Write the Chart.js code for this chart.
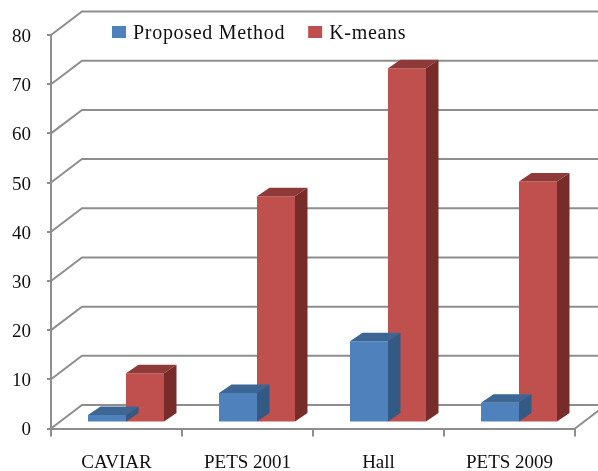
<!DOCTYPE html>
<html>
<head>
<meta charset="utf-8">
<title>Proposed Method vs K-means</title>
<script src="https://cdn.jsdelivr.net/npm/chart.js@4.4.1/dist/chart.umd.min.js"></script>
<style>
  html, body { margin: 0; padding: 0; background: #ffffff; }
  #wrap { width: 598px; height: 471px; }
</style>
</head>
<body>
<div id="wrap"><canvas id="chart" width="598" height="471"></canvas></div>
<script>
/* ---------------- Data ---------------- */
const categories     = ["CAVIAR", "PETS 2001", "Hall", "PETS 2009"];
const seriesNames    = ["Proposed Method", "K-means"];
const proposedValues = [1.5, 6, 16.5, 4];
const kmeansValues   = [10, 46, 72, 49];
const yTickValues    = [0, 10, 20, 30, 40, 50, 60, 70, 80];

/* ---------------- Look of the fake 3D (Excel-style) ---------------- */
const FONT       = "'Liberation Serif', 'Times New Roman', serif";
const TEXT_COLOR = "#111111";
const GRID_COLOR = "#8e8e8e";
const WALL_DEPTH = { dx: 31, dy: -23.5 };   // front plane -> back wall
const BAR_SHIFT  = { dx: 9.5, dy: -6 };     // where the bars stand in depth
const BAR_DEPTH  = { dx: 12.5, dy: -8.5 };  // thickness of each bar
const faces = [
  { front: "#4f81bd", top: "#3c6794", side: "#335a85" },
  { front: "#c0504d", top: "#8e3a38", side: "#772c2a" }
];

/* ---------------- Plugin: walls, bar tops/sides, legend ---------------- */
const depthPlugin = {
  id: "depth3d",
  beforeDatasetsDraw(chart) {
    const { ctx, chartArea: a, scales: { y } } = chart;
    ctx.save();
    ctx.strokeStyle = GRID_COLOR;
    ctx.lineWidth = 2;
    ctx.beginPath();
    yTickValues.forEach((v) => {
      const py = y.getPixelForValue(v);
      // left side wall slant, then the back wall line
      ctx.moveTo(a.left, py);
      ctx.lineTo(a.left + WALL_DEPTH.dx, py + WALL_DEPTH.dy);
      ctx.lineTo(a.right + WALL_DEPTH.dx + 40, py + WALL_DEPTH.dy);
    });
    // right edge of the floor
    ctx.moveTo(a.right, a.bottom);
    ctx.lineTo(a.right + WALL_DEPTH.dx, a.bottom + WALL_DEPTH.dy);
    ctx.stroke();
    ctx.restore();

    ctx.save();
    ctx.translate(BAR_SHIFT.dx, BAR_SHIFT.dy);
  },
  afterDatasetDraw(chart, args) {
    const { ctx } = chart;
    const f = faces[args.index];
    args.meta.data.forEach((bar) => {
      const { x, y, base, width } = bar.getProps(["x", "y", "base", "width"], true);
      const x0 = x - width / 2, x1 = x + width / 2;
      const { dx, dy } = BAR_DEPTH;
      ctx.fillStyle = f.top;
      ctx.beginPath();
      ctx.moveTo(x0, y);
      ctx.lineTo(x1, y);
      ctx.lineTo(x1 + dx, y + dy);
      ctx.lineTo(x0 + dx, y + dy);
      ctx.closePath();
      ctx.fill();
      ctx.fillStyle = f.side;
      ctx.beginPath();
      ctx.moveTo(x1, y);
      ctx.lineTo(x1 + dx, y + dy);
      ctx.lineTo(x1 + dx, base + dy);
      ctx.lineTo(x1, base);
      ctx.closePath();
      ctx.fill();
    });
  },
  afterDatasetsDraw(chart) {
    chart.ctx.restore();
  },
  afterDraw(chart) {
    const { ctx } = chart;
    ctx.save();
    ctx.font = "20px " + FONT;
    ctx.letterSpacing = "0.7px";
    ctx.textBaseline = "alphabetic";
    let lx = 112;
    chart.data.datasets.forEach((ds, i) => {
      ctx.fillStyle = faces[i].front;
      ctx.fillRect(lx, 26, 14, 12);
      ctx.fillStyle = TEXT_COLOR;
      ctx.fillText(ds.label, lx + 21, 38.5);
      lx += 21 + ctx.measureText(ds.label).width + 23;
    });
    ctx.restore();
  }
};

/* ---------------- Chart ---------------- */
function renderChart() {
  const ctx = document.getElementById("chart");
  if (!ctx || typeof Chart === "undefined") return;

  new Chart(ctx, {
    type: "bar",
    data: {
      labels: categories,
      datasets: [
        { label: seriesNames[0], data: proposedValues, backgroundColor: faces[0].front },
        { label: seriesNames[1], data: kmeansValues,   backgroundColor: faces[1].front }
      ]
    },
    options: {
      responsive: false,
      animation: false,
      events: [],
      layout: { padding: { top: 35, right: 23, left: 0, bottom: 0 } },
      datasets: { bar: { categoryPercentage: 0.58, barPercentage: 1.0, borderWidth: 0, clip: false } },
      plugins: { legend: { display: false }, tooltip: { enabled: false } },
      scales: {
        x: {
          afterFit: (s) => { s.height = 42.5; },
          grid: { offset: true, drawOnChartArea: false, color: GRID_COLOR, lineWidth: 2, tickLength: 8 },
          border: { color: GRID_COLOR, width: 2 },
          ticks: { color: TEXT_COLOR, font: { family: FONT, size: 19 }, padding: 15, maxRotation: 0 }
        },
        y: {
          min: 0,
          max: 80,
          afterFit: (s) => { s.width = 51; },
          afterBuildTicks: (s) => { s.ticks = yTickValues.map((v) => ({ value: v })); },
          grid: { drawOnChartArea: false, color: GRID_COLOR, lineWidth: 2, tickLength: 4 },
          border: { color: GRID_COLOR, width: 2 },
          ticks: { color: TEXT_COLOR, font: { family: FONT, size: 19 }, padding: 16, labelOffset: 2 }
        }
      }
    },
    plugins: [depthPlugin]
  });
}

document.addEventListener("DOMContentLoaded", renderChart);
</script>
</body>
</html>
